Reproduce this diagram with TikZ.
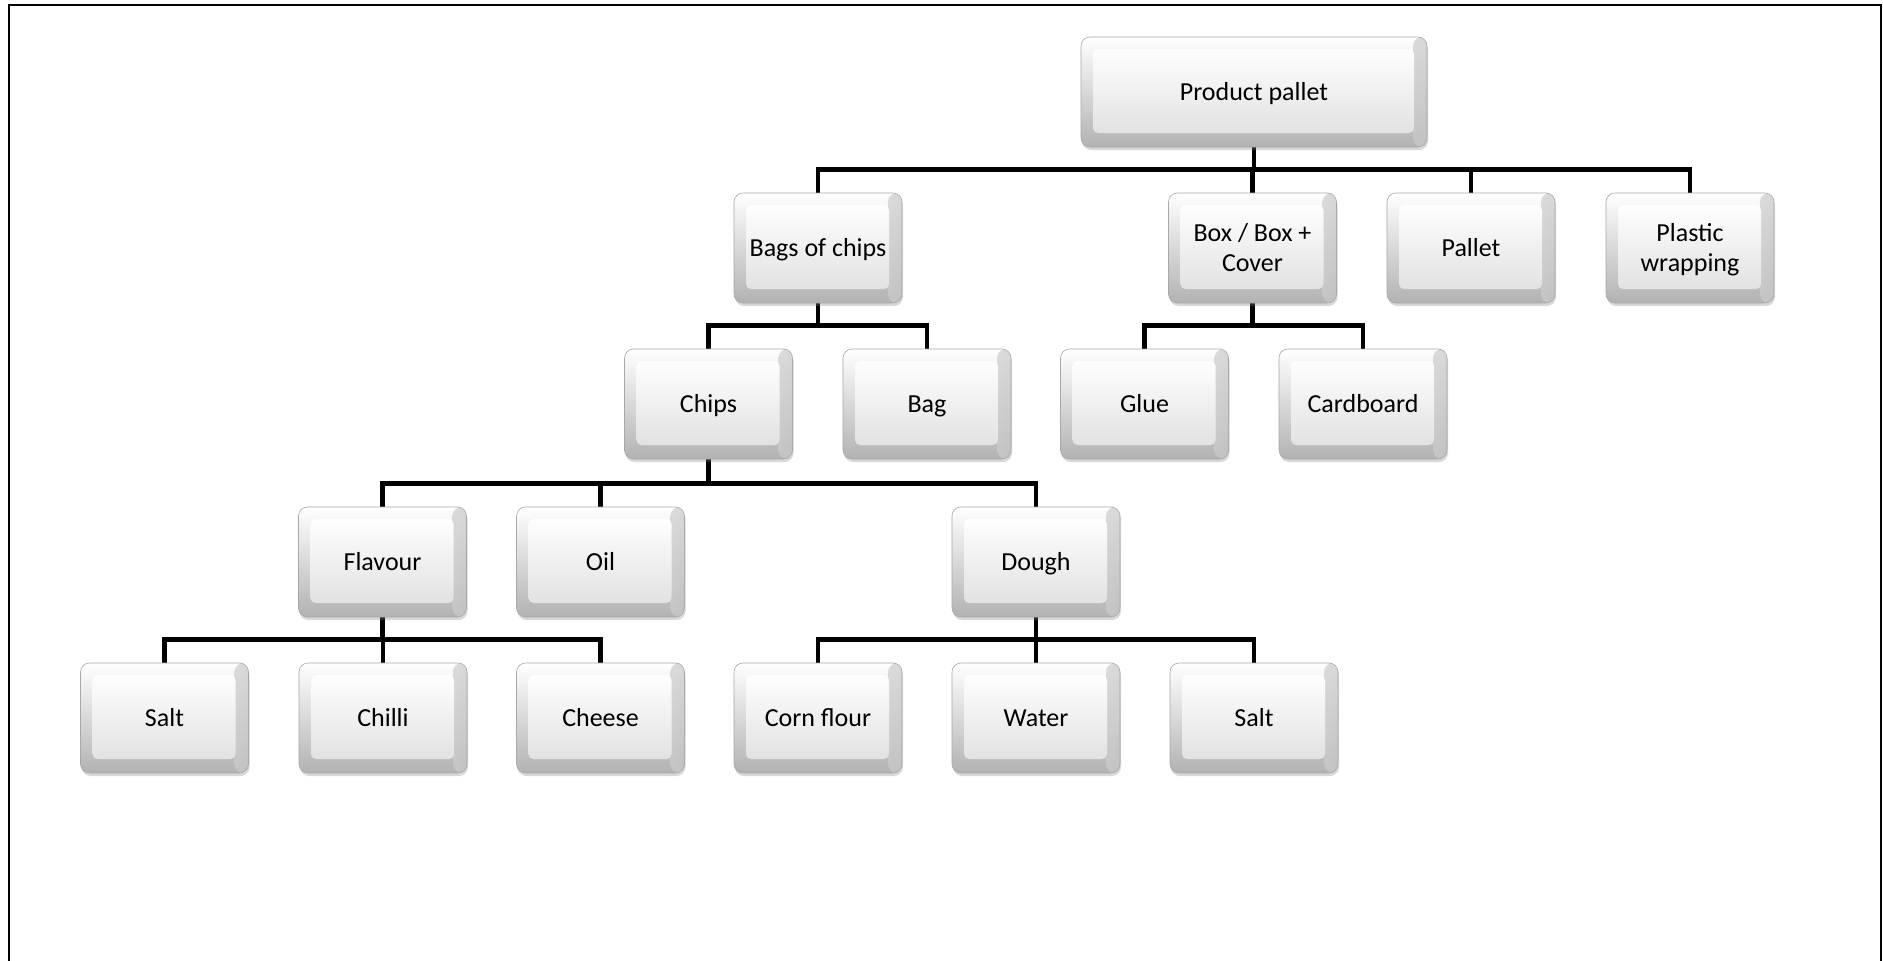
\documentclass[tikz,border=0pt]{standalone}
\usepackage{fontspec}
\setmainfont{Carlito}
\usetikzlibrary{shadows,backgrounds}

\definecolor{rimbot}{RGB}{178,178,178}
\definecolor{rimright}{RGB}{200,200,200}
\definecolor{facetop}{RGB}{254,254,254}
\definecolor{facebot}{RGB}{226,226,226}
\definecolor{edgegray}{RGB}{168,168,168}

% centred block of one or more lines with a fixed line pitch
\newcommand{\keytext}[1]{\begin{tabular}{@{}c@{}}#1\end{tabular}}

\begin{document}
\begin{tikzpicture}[x=1pt,y=-1pt,
  keybox/.style={
    rounded corners=9pt,
    minimum width=168pt, minimum height=110pt,
    inner sep=0pt,
    font=\fontsize{26}{30}\selectfont,
    text height=30pt, text depth=11.6pt,
    top color=white, middle color=white, bottom color=rimbot,
    draw=edgegray, line width=0.6pt,
    drop shadow={shadow xshift=1pt, shadow yshift=-3pt, opacity=0.3, fill=gray},
    path picture={
      % darker rim along the right side
      \shade[left color=white, right color=rimright, opacity=0.7]
        ([xshift=-14pt]path picture bounding box.south east) rectangle
        (path picture bounding box.north east);
      % the raised face of the key
      \shade[top color=facetop, bottom color=facebot, rounded corners=5pt]
        ([shift={(12pt,14pt)}]path picture bounding box.south west) rectangle
        ([shift={(-13pt,-12pt)}]path picture bounding box.north east);
    }},
  widebox/.style={keybox, minimum width=346pt},
  conn/.style={line width=4.6pt, black}
]
\useasboundingbox (0,0) rectangle (1883,961);

% level 0
\node[widebox] (pp) at (1254,92) {\keytext{Product pallet}};

% level 1
\node[keybox] (boc)     at (818,248)    {\keytext{Bags of chips}};
\node[keybox] (box)     at (1252.5,248) {\keytext{Box / Box +\\Cover}};
\node[keybox] (pallet)  at (1471,248)   {\keytext{Pallet}};
\node[keybox] (plastic) at (1690,248)   {\keytext{Plastic\\wrapping}};

% level 2
\node[keybox] (chips)     at (708.5,404)  {\keytext{Chips}};
\node[keybox] (bag)       at (927,404)    {\keytext{Bag}};
\node[keybox] (glue)      at (1144.5,404) {\keytext{Glue}};
\node[keybox] (cardboard) at (1363,404)   {\keytext{Cardboard}};

% level 3
\node[keybox] (flavour) at (382.5,562) {\keytext{Flavour}};
\node[keybox] (oil)     at (600.5,562) {\keytext{Oil}};
\node[keybox] (dough)   at (1036,562)  {\keytext{Dough}};

% level 4
\node[keybox] (salta)  at (164.5,718) {\keytext{Salt}};
\node[keybox] (chilli) at (383,718)   {\keytext{Chilli}};
\node[keybox] (cheese) at (600.5,718) {\keytext{Cheese}};
\node[keybox] (corn)   at (818,718)   {\keytext{Corn flour}};
\node[keybox] (water)  at (1036,718)  {\keytext{Water}};
\node[keybox] (saltb)  at (1254,718)  {\keytext{Salt}};

\begin{scope}[on background layer]
  % white page with its frame
  \fill[white] (0,0) rectangle (1883,961);
  \draw[line width=2.6pt] (9,975) -- (9,5) -- (1881,5) -- (1881,975);
  % elbow connectors, behind the boxes
  \foreach \p/\c/\d in {pp/boc/22, pp/box/22, pp/pallet/22, pp/plastic/22,
                        boc/chips/22, boc/bag/22,
                        box/glue/22, box/cardboard/22,
                        chips/flavour/24, chips/oil/24, chips/dough/24,
                        flavour/salta/22, flavour/chilli/22, flavour/cheese/22,
                        dough/corn/22, dough/water/22, dough/saltb/22}
    \draw[conn] (\p.south) -- ++(0,\d) -| (\c.north);
\end{scope}
\end{tikzpicture}
\end{document}
